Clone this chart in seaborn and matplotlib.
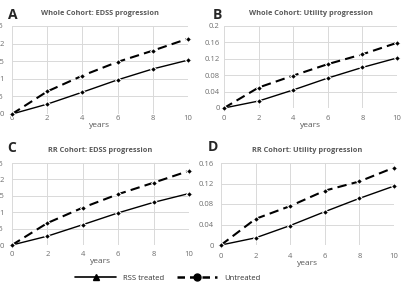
import pandas as pd
import seaborn as sns
import matplotlib.pyplot as plt
from matplotlib.lines import Line2D

years = [0, 2, 4, 6, 8, 10]

# panel A: whole cohort, EDSS
a_treated = [0, 0.28, 0.62, 0.97, 1.28, 1.53]
a_untreated = [0, 0.64, 1.09, 1.48, 1.80, 2.14]
# panel B: whole cohort, utility
b_treated = [0, 0.017, 0.044, 0.073, 0.099, 0.122]
b_untreated = [0, 0.050, 0.079, 0.107, 0.131, 0.159]
# panel C: RR cohort, EDSS
c_treated = [0, 0.27, 0.62, 0.98, 1.30, 1.57]
c_untreated = [0, 0.67, 1.14, 1.55, 1.90, 2.26]
# panel D: RR cohort, utility
d_treated = [0, 0.014, 0.038, 0.065, 0.091, 0.115]
d_untreated = [0, 0.051, 0.076, 0.106, 0.124, 0.151]

titles = ["Whole Cohort: EDSS progression", "Whole Cohort: Utility progression",
          "RR Cohort: EDSS progression", "RR Cohort: Utility progression"]
letters = ["A", "B", "C", "D"]
edss_ticks = [0, 0.5, 1, 1.5, 2, 2.5]
edss_labels = ["0", "0.5", "1", "1.5", "2", "2.5"]
util_ticks_b = [0, 0.04, 0.08, 0.12, 0.16, 0.2]
util_labels_b = ["0", "0.04", "0.08", "0.12", "0.16", "0.2"]
util_ticks_d = [0, 0.04, 0.08, 0.12, 0.16]
util_labels_d = ["0", "0.04", "0.08", "0.12", "0.16"]

sns.set_style("white")
plt.rcParams['font.family'] = ['Open Sans', 'DejaVu Sans']

W, H = 404, 283
fig = plt.figure(figsize=(W / 100, H / 100), dpi=100)

def pix_axes(x0, y0, x1, y1):
    return fig.add_axes([x0 / W, 1 - y1 / H, (x1 - x0) / W, (y1 - y0) / H])

grey = "#595959"
tickgrey = "#6e6e6e"
panels = [
    (pix_axes(12, 26, 188, 114), a_treated, a_untreated, edss_ticks, edss_labels, 6, 1),
    (pix_axes(224, 26, 397, 108), b_treated, b_untreated, util_ticks_b, util_labels_b, 3, 5),
    (pix_axes(12, 163, 189, 245), c_treated, c_untreated, edss_ticks, edss_labels, 6, 4),
    (pix_axes(221, 163, 394, 245), d_treated, d_untreated, util_ticks_d, util_labels_d, 5, 6),
]

for i, (ax, tr, un, yt, yl, ypad, xpad) in enumerate(panels):
    df = pd.DataFrame({"years": years * 2, "value": tr + un,
                       "group": ["RSS treated"] * 6 + ["Untreated"] * 6})
    sns.lineplot(data=df[df.group == "RSS treated"], x="years", y="value", ax=ax,
                 color="black", lw=1.0, marker="D", markersize=3, legend=False)
    sns.lineplot(data=df[df.group == "Untreated"], x="years", y="value", ax=ax,
                 color="black", lw=1.5, marker="D", markersize=3, legend=False)
    ax.lines[1].set_dashes((4.5, 2.5))
    ax.set_xlim(0, 10)
    ax.set_ylim(yt[0], yt[-1])
    ax.set_xticks(years)
    ax.set_yticks(yt)
    ax.set_yticklabels(yl)
    ax.grid(True, color="#d9d9d9", lw=0.7)
    for s in ax.spines.values():
        s.set_visible(False)
    ax.tick_params(length=0, labelsize=5.5, labelcolor=tickgrey)
    ax.tick_params(axis="y", pad=ypad)
    ax.tick_params(axis="x", pad=xpad)
    ax.set_xlabel("years", fontsize=6, color=grey, labelpad=0)
    ax.set_ylabel("")
    ax.set_title(titles[i], fontsize=5.3, color=grey, fontweight="bold", pad=8)
    ax.set_axisbelow(True)
    for ln in ax.lines:
        ln.set_clip_on(False)

fig.text(8 / W, 1 - 15 / H, "A", fontsize=10, fontweight="bold", va="center")
fig.text(213 / W, 1 - 15 / H, "B", fontsize=10, fontweight="bold", va="center")
fig.text(7 / W, 1 - 148 / H, "C", fontsize=10, fontweight="bold", va="center")
fig.text(208 / W, 1 - 147 / H, "D", fontsize=10, fontweight="bold", va="center")

handles = [
    Line2D([], [], color="black", lw=1.2, marker="^", markersize=5),
    Line2D([], [], color="black", lw=1.8, ls=(0, (3, 2)), marker="o", markersize=5),
]
fig.legend(handles, ["RSS treated", "Untreated"], loc="center", ncol=2,
           bbox_to_anchor=(168 / W, 1 - 278 / H), frameon=False, fontsize=5.5,
           labelcolor="#333333", handlelength=5.3, columnspacing=1.7, handletextpad=0.9)

fig.savefig("out.png", dpi=100)
